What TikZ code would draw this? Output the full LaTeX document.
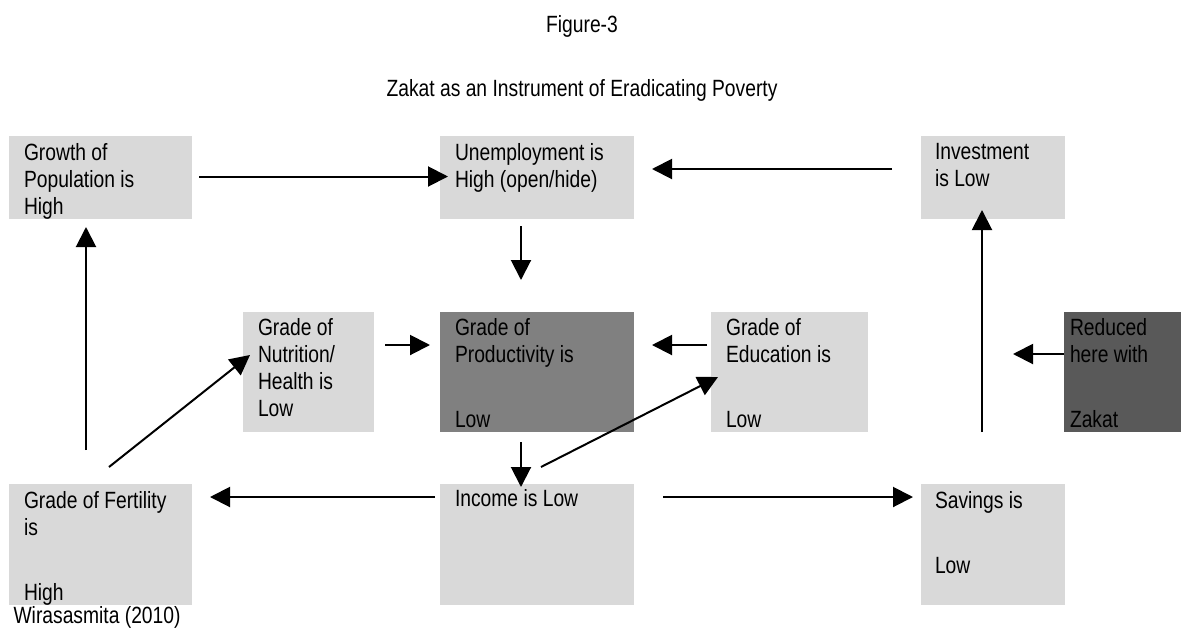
\documentclass[tikz,border=0pt]{standalone}
\usepackage{fontspec}
\setmainfont{Liberation Sans}[FakeStretch=0.82]
\usetikzlibrary{arrows.meta}
\definecolor{boxlight}{HTML}{D9D9D9}
\definecolor{boxmid}{HTML}{808080}
\definecolor{boxdark}{HTML}{595959}
\begin{document}
\begin{tikzpicture}[x=1pt,y=-1pt,
  every node/.style={font=\fontsize{23.5}{27}\selectfont},
  box/.style={draw=none, inner sep=0pt, outer sep=0pt, anchor=north west},
  lbl/.style={inner sep=0pt, outer sep=0pt, anchor=north west, align=left},
  arr/.style={line width=2pt, -{Triangle[length=20pt,width=20pt]}}]
\useasboundingbox (0,0) rectangle (1181,630);
\fill[white] (0,0) rectangle (1181,630);

% titles
\node[anchor=base] (fig) at (582,32) {Figure-3};
\node[anchor=base] (title) at (582,96) {Zakat as an Instrument of Eradicating Poverty};

% top row
\node[box, fill=boxlight, minimum width=183pt, minimum height=83pt] (G) at (9,136) {};
\node[lbl] (Gt) at ([shift={(15pt,-7pt)}]G.north west) {Growth of\\Population is\\High};
\node[box, fill=boxlight, minimum width=194pt, minimum height=83pt] (U) at (440,136) {};
\node[lbl] (Ut) at ([shift={(15pt,-7pt)}]U.north west) {Unemployment is\\High (open/hide)};
\node[box, fill=boxlight, minimum width=144pt, minimum height=83pt] (I) at (921,136) {};
\node[lbl] (It) at ([shift={(14pt,-7pt)}]I.north west) {Investment\\is Low};

% middle row
\node[box, fill=boxlight, minimum width=131pt, minimum height=120pt] (N) at (243,312) {};
\node[lbl] (Nt) at ([shift={(15pt,-6pt)}]N.north west) {Grade of\\Nutrition/\\Health is\\Low};
\node[box, fill=boxmid, minimum width=194pt, minimum height=120pt] (P) at (440,312) {};
\node[lbl] (Pt) at ([shift={(15pt,-6pt)}]P.north west) {Grade of\\Productivity is\\[38pt]Low};
\node[box, fill=boxlight, minimum width=157pt, minimum height=120pt] (E) at (711,312) {};
\node[lbl] (Et) at ([shift={(15pt,-6pt)}]E.north west) {Grade of\\Education is\\[38pt]Low};
\node[box, fill=boxdark, minimum width=117pt, minimum height=120pt] (R) at (1064,312) {};
\node[lbl] (Rt) at ([shift={(6pt,-6pt)}]R.north west) {Reduced\\here with\\[38pt]Zakat};

% bottom row
\node[box, fill=boxlight, minimum width=183pt, minimum height=121pt] (F) at (9,484) {};
\node[lbl] (Ft) at ([shift={(15pt,-7pt)}]F.north west) {Grade of Fertility\\is\\[38pt]High};
\node[box, fill=boxlight, minimum width=194pt, minimum height=121pt] (Inc) at (440,484) {};
\node[lbl] (Inct) at ([shift={(15pt,-5pt)}]Inc.north west) {Income is Low};
\node[box, fill=boxlight, minimum width=144pt, minimum height=121pt] (S) at (921,484) {};
\node[lbl] (St) at ([shift={(14pt,-7pt)}]S.north west) {Savings is\\[38pt]Low};

\node[anchor=base west] (src) at (10,623) {Wirasasmita (2010)};

% connectors
\draw[arr] ([shift={(7pt,1pt)}]G.east) -- ([shift={(8pt,1pt)}]U.west);
\draw[arr] ([shift={(-29pt,8.5pt)}]I.west) -- ([shift={(18pt,8.5pt)}]U.east);
\draw[arr] ([shift={(-16pt,-7pt)}]U.south) -- ([shift={(-16pt,32pt)}]P.north);
\draw[arr] ([shift={(11pt,27pt)}]N.east) -- ([shift={(-10pt,27pt)}]P.west);
\draw[arr] ([shift={(-4pt,27pt)}]E.west) -- ([shift={(18pt,27pt)}]P.east);
\draw[arr] ([yshift=18pt]R.west) -- ([shift={(-51pt,18pt)}]R.west);
\draw[arr] ([shift={(-16pt,-10pt)}]P.south) -- ([shift={(-16pt,-3pt)}]Inc.north);
\draw[arr] ([shift={(4pt,17pt)}]Inc.north) -- ([shift={(7pt,-5pt)}]E.west);
\draw[arr] ([shift={(8.5pt,17pt)}]F.north) -- ([shift={(7pt,17pt)}]N.west);
\draw[arr] ([shift={(-14.5pt,34pt)}]F.north) -- ([shift={(-14.5pt,-8pt)}]G.south);
\draw[arr] ([shift={(-5pt,47.5pt)}]Inc.west) -- ([shift={(18pt,47.5pt)}]F.east);
\draw[arr] ([shift={(29pt,47.5pt)}]Inc.east) -- ([shift={(-8pt,47.5pt)}]S.west);
\draw[arr] ([shift={(-11pt,52pt)}]S.north) -- ([shift={(-11pt,9pt)}]I.south);
\end{tikzpicture}
\end{document}
